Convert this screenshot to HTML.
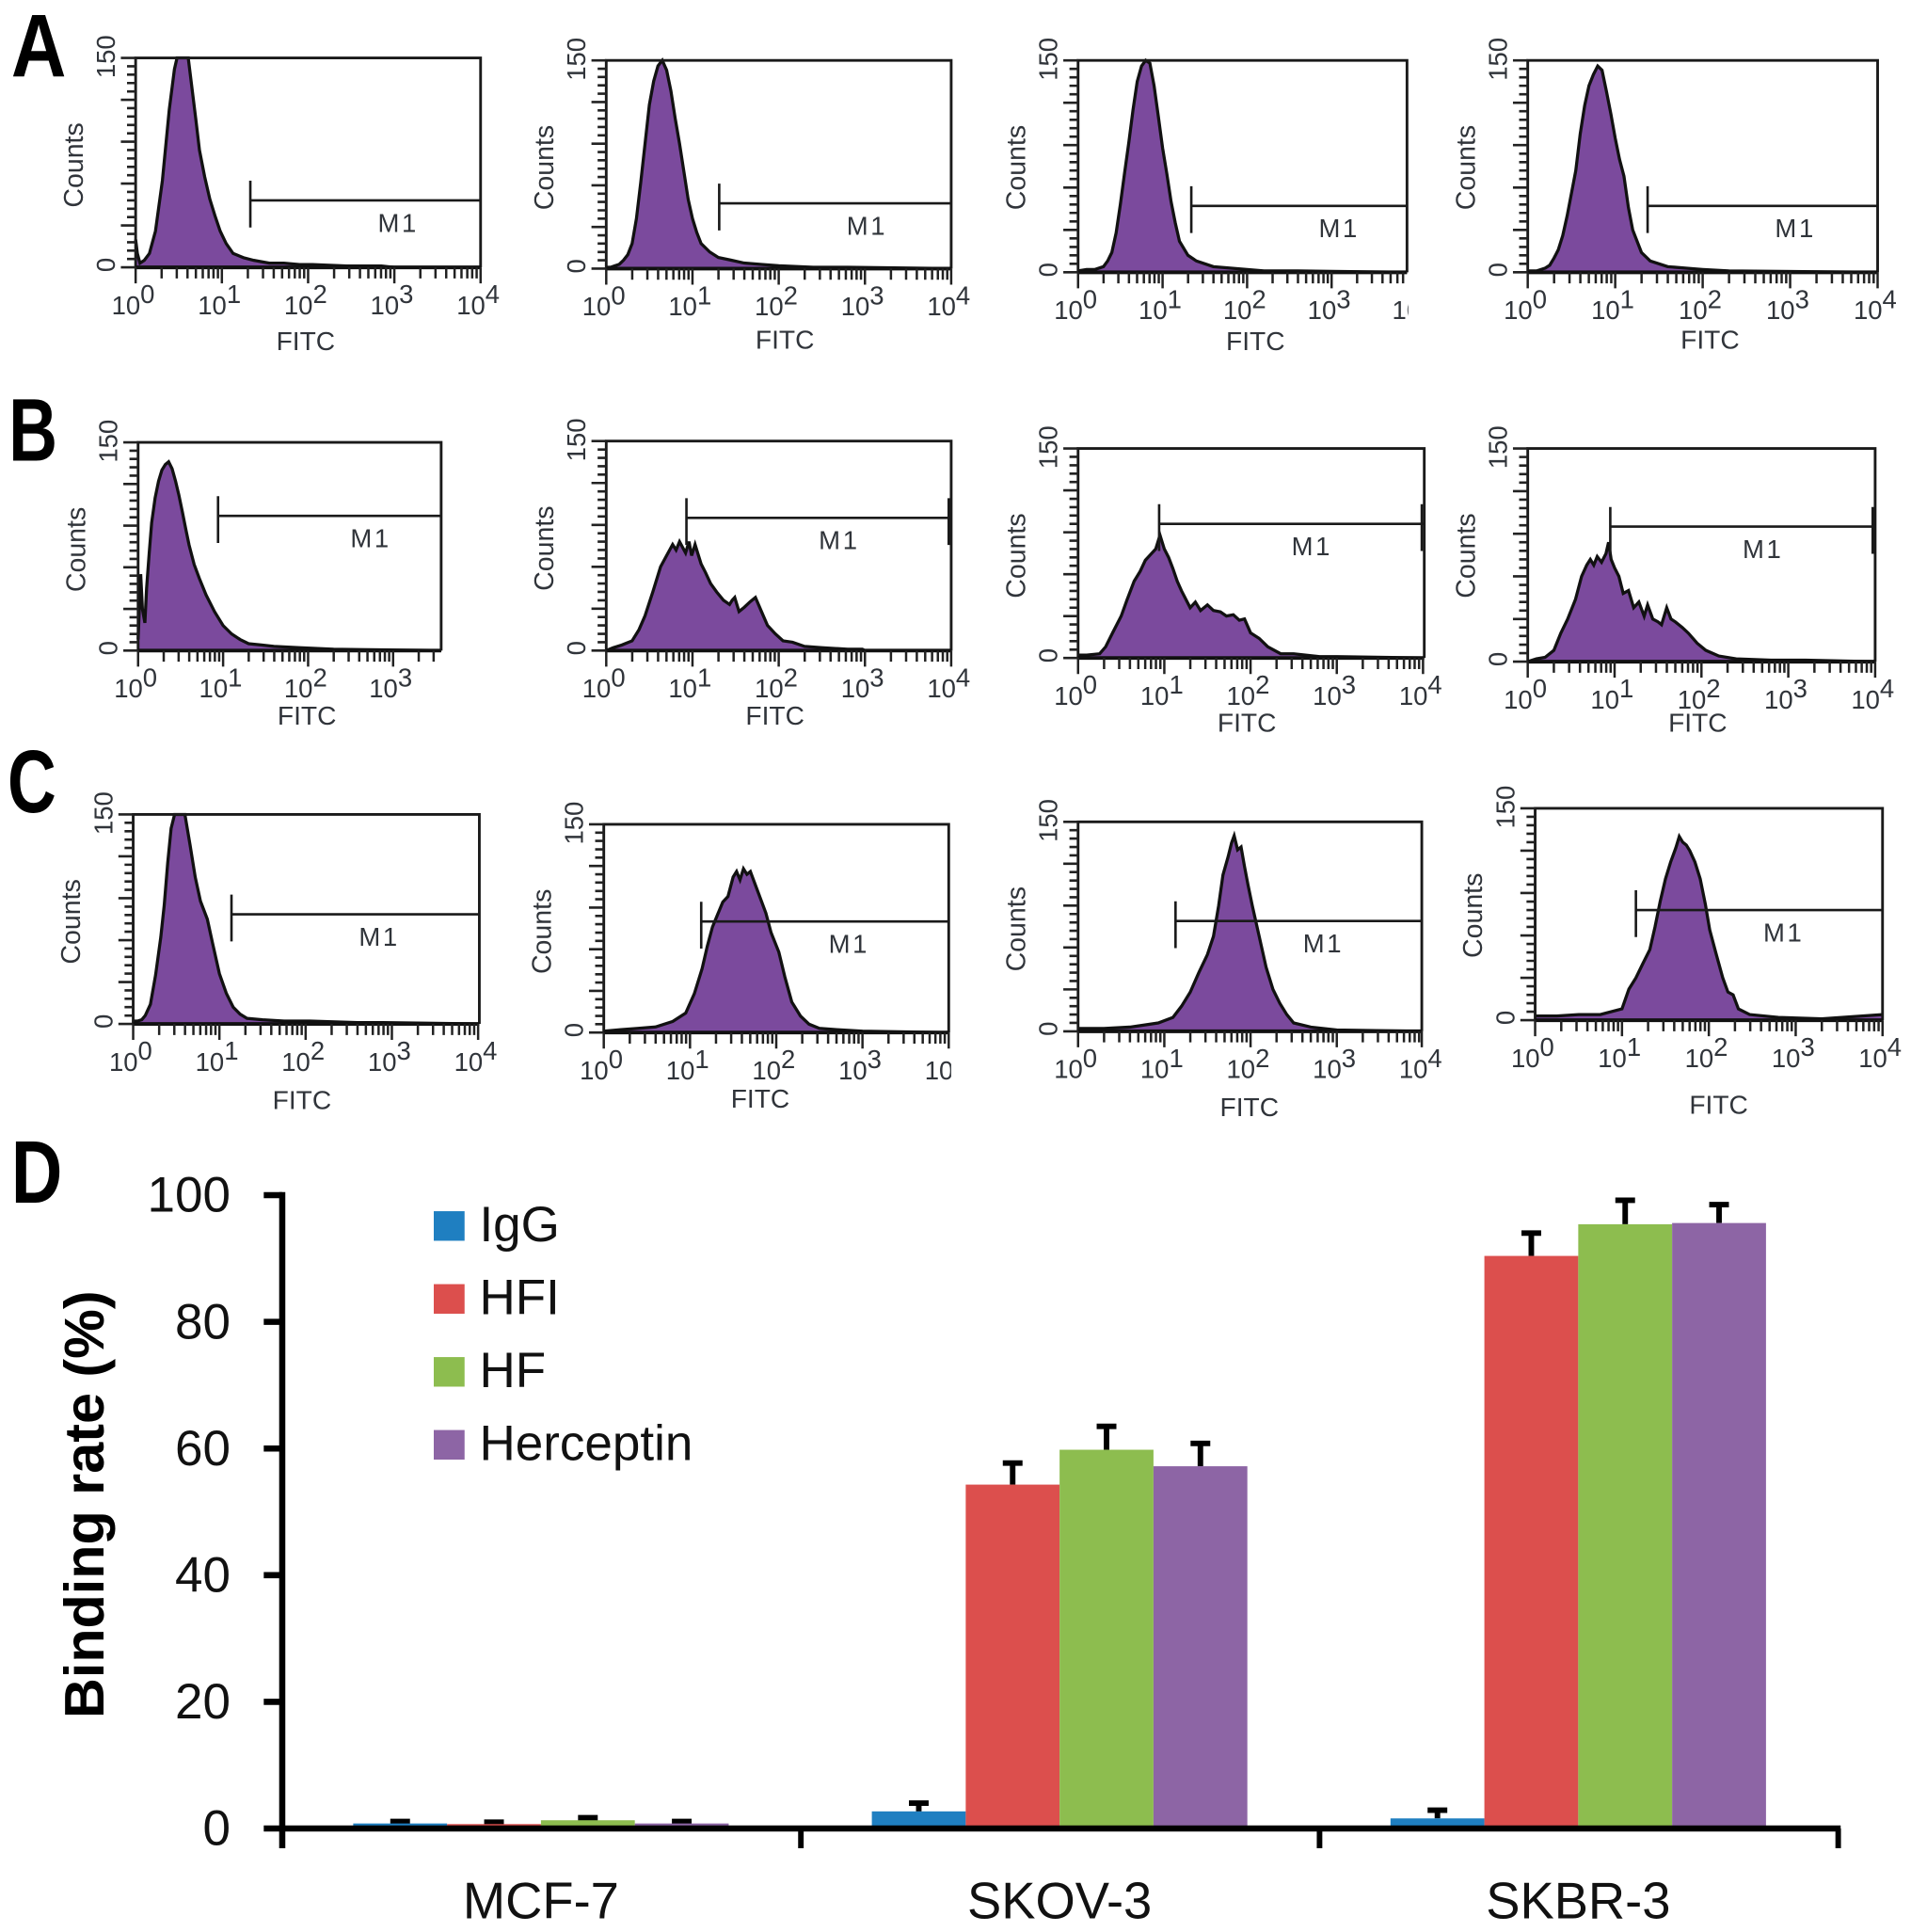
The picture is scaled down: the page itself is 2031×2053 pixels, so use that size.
<!DOCTYPE html>
<html lang="en">
<head>
<meta charset="utf-8">
<title>Flow cytometry binding histograms and binding rate chart</title>
<style>
html,body{margin:0;padding:0;background:#fff;width:2031px;height:2053px;overflow:hidden}
svg{display:block}
text{font-family:"Liberation Sans",Arial,sans-serif}
</style>
</head>
<body>
<svg id="figure" xmlns="http://www.w3.org/2000/svg" width="2031" height="2053" viewBox="0 0 1551 1568">
  <rect x="0" y="0" width="1551" height="1568" fill="#fff"/>
  <text transform="translate(9 62) scale(.86 1)" font-size="72" font-weight="700" fill="#000">A</text>
  <text transform="translate(7 374) scale(.76 1)" font-size="72" font-weight="700" fill="#000">B</text>
  <text transform="translate(6 659) scale(.76 1)" font-size="72" font-weight="700" fill="#000">C</text>
  <text transform="translate(9 976) scale(.8 1)" font-size="72" font-weight="700" fill="#000">D</text>
  <g id="histograms"></g>
  <g id="barchart"></g>
</svg>
<script>
// ---------- histogram data (log10 fluorescence in decades, counts 0-150) ----------
const a1Decades=[0,.02,.05,.1,.16,.23,.31,.39,.45,.48,.51,.56,.61,.66,.7,.74,.8,.86,.92,.98,1.05,1.13,1.25,1.37,1.55,1.72,1.9,2.05,2.45,2.85,3,4];
const a1Counts=[20,10,3,5,10,26,62,113,142,150,153,153,150,125,105,84,65,49,37,26,17,10,7,5,3,3,2,2,1,1,0,0];
const a2Decades=[0,.05,.1,.15,.2,.25,.3,.35,.4,.45,.5,.55,.6,.65,.7,.75,.8,.85,.9,.95,1,1.05,1.1,1.2,1.3,1.45,1.6,1.8,2,2.4,2.8,4];
const a2Counts=[1,1,2,3,6,10,18,36,62,90,118,135,146,150,143,128,108,90,70,50,36,26,18,12,8,6,4,3,2,1,1,0];
const a3Decades=[0,.1,.2,.3,.35,.4,.45,.5,.55,.6,.65,.7,.75,.8,.85,.9,.95,1,1.05,1.1,1.15,1.2,1.3,1.4,1.6,1.8,2,2.2,2.6,4];
const a3Counts=[1,2,2,4,8,14,28,48,70,92,115,135,146,150,148,132,110,88,70,50,35,22,12,8,4,3,2,1,1,0];
const a4Decades=[0,.1,.2,.25,.3,.35,.4,.45,.5,.55,.6,.65,.7,.75,.8,.85,.9,.95,1,1.05,1.1,1.15,1.2,1.3,1.4,1.6,1.8,2,2.3,4];
const a4Counts=[1,1,3,5,10,16,26,40,56,72,98,118,132,140,146,143,128,112,95,80,68,46,30,14,8,4,3,2,1,0];
const b1Decades=[0,.03,.05,.08,.1,.13,.16,.2,.24,.28,.32,.36,.4,.44,.48,.52,.56,.6,.66,.72,.8,.9,1,1.1,1.2,1.3,1.45,1.6,1.9,2.3,4];
const b1Counts=[8,55,30,20,45,70,92,110,122,130,134,136,131,122,112,100,88,76,62,52,40,28,18,12,8,5,4,3,2,1,0];
const b2Decades=[0,.08,.18,.3,.38,.45,.54,.63,.7,.77,.81,.85,.92,.96,.99,1.03,1.06,1.1,1.15,1.21,1.28,1.36,1.43,1.46,1.49,1.54,1.6,1.67,1.73,1.8,1.87,1.96,2.05,2.16,2.3,2.5,2.8,2.97,3,4];
const b2Counts=[0,2,4,7,15,25,42,60,68,76,72,78,70,78,68,76,70,62,56,48,42,36,33,36,38,28,31,35,38,28,18,12,7,6,3,2,1,1,0,0];
const b3Decades=[0,.1,.25,.32,.4,.5,.57,.65,.72,.78,.84,.9,.95,1,1.05,1.1,1.15,1.2,1.25,1.3,1.36,1.42,1.5,1.57,1.65,1.72,1.8,1.87,1.93,2,2.1,2.2,2.35,2.5,2.8,3,4];
const b3Counts=[2,2,3,8,18,30,42,55,62,70,74,78,88,78,72,64,55,48,42,36,40,34,38,34,33,30,31,27,28,18,14,8,3,3,1,1,0];
const b4Decades=[0,.1,.2,.3,.38,.46,.55,.62,.68,.72,.76,.8,.85,.9,.93,.96,1,1.05,1.1,1.16,1.22,1.28,1.34,1.38,1.44,1.5,1.54,1.6,1.65,1.7,1.78,1.85,1.95,2.05,2.2,2.4,2.8,3.2,4];
const b4Counts=[0,2,3,8,20,30,44,60,68,72,68,74,70,76,84,72,66,60,48,50,38,42,32,40,30,28,26,38,30,28,24,20,13,8,4,2,1,1,0];
const c1Decades=[0,.05,.1,.14,.2,.26,.32,.36,.4,.44,.48,.52,.56,.6,.66,.72,.78,.86,.92,1,1.08,1.16,1.24,1.32,1.5,1.75,2.05,2.6,2.9,4];
const c1Counts=[2,2,3,6,14,35,62,85,115,140,150,153,153,150,128,105,88,75,58,36,22,12,7,4,3,2,2,1,1,0];
const c2Decades=[0,.2,.4,.6,.8,.95,1.05,1.14,1.2,1.26,1.32,1.38,1.44,1.5,1.54,1.58,1.62,1.66,1.7,1.76,1.82,1.88,1.94,2.03,2.1,2.18,2.28,2.38,2.5,2.7,3,4];
const c2Counts=[1,2,3,4,8,14,28,46,62,76,85,94,98,112,116,110,118,114,116,106,96,86,72,58,40,22,12,6,3,2,1,0];
const c3Decades=[0,.3,.6,.93,1.1,1.2,1.3,1.4,1.5,1.57,1.63,1.68,1.74,1.78,1.81,1.85,1.89,1.93,1.97,2.02,2.1,2.18,2.26,2.34,2.42,2.5,2.7,3,4];
const c3Counts=[2,2,3,6,10,18,28,42,55,68,90,112,125,135,140,130,132,118,105,90,68,46,30,20,12,6,3,1,0];
const c4Decades=[0,.25,.5,.75,1,1.08,1.16,1.24,1.32,1.38,1.44,1.5,1.56,1.62,1.66,1.7,1.74,1.78,1.84,1.9,1.96,2.01,2.08,2.16,2.22,2.28,2.34,2.47,2.8,3.3,4];
const c4Counts=[3,3,4,4,8,22,30,40,50,66,84,100,112,122,130,126,124,120,112,100,82,64,48,30,20,18,8,4,2,1,4];
const gateDecades=[1.33,1.31,1.34,1.37,.94,.93,.94,.95,1.14,1.13,1.13,1.16];
const gateCounts=[48,47,47,47,97,95,96,95,78.5,80,79,78];
const axisDecadeLabels=["0","1","2","3","4"];
const axisCountLabels=["0","150"];

// ---------- bar chart data ----------
const barCategories=["MCF-7","SKOV-3","SKBR-3"];
const seriesNames=["IgG","HFI","HF","Herceptin"];
const igGValues=[.8,2.7,1.6];
const hfiValues=[.7,54.3,90.4];
const hfValues=[1.3,59.8,95.4];
const herceptinValues=[.8,57.2,95.6];
const igGErrors=[.3,1.3,1.3];
const hfiErrors=[.3,3.4,3.6];
const hfErrors=[.4,3.7,3.8];
const herceptinErrors=[.3,3.6,2.9];
const yTickLabels=[0,20,40,60,80,100];

// ---------- layout ----------
const seriesColors=["#1f7fc1","#dc4f4d","#8dbd4f","#8d65a5"];
const histDecades=[a1Decades,a2Decades,a3Decades,a4Decades,b1Decades,b2Decades,b3Decades,b4Decades,c1Decades,c2Decades,c3Decades,c4Decades];
const histCounts=[a1Counts,a2Counts,a3Counts,a4Counts,b1Counts,b2Counts,b3Counts,b4Counts,c1Counts,c2Counts,c3Counts,c4Counts];
const panelNames=["a1","a2","a3","a4","b1","b2","b3","b4","c1","c2","c3","c4"];
const panelFrames=[
 {l:110,r:390,t:47,b:217,dw:70,fx:248,fy:284,cut:0,rt:0,maxD:4},
 {l:492,r:772,t:49,b:218,dw:70,fx:637,fy:283,cut:0,rt:0,maxD:4},
 {l:875,r:1142,t:49,b:221,dw:68.6,fx:1019,fy:284,cut:1143,rt:0,maxD:3.9},
 {l:1240,r:1524,t:49,b:221,dw:71,fx:1388,fy:283,cut:0,rt:0,maxD:4},
 {l:112,r:358,t:359,b:528,dw:69,fx:249,fy:588,cut:0,rt:0,maxD:3.57,noLast:1,mo:124},
 {l:492,r:772,t:358,b:528,dw:70,fx:629,fy:588,cut:0,rt:1,maxD:4,mo:124},
 {l:875,r:1156,t:364,b:534,dw:70,fx:1012,fy:594,cut:0,rt:1,maxD:4,mo:124},
 {l:1240,r:1522,t:364,b:537,dw:70.5,fx:1378,fy:594,cut:0,rt:1,maxD:4,mo:124},
 {l:108,r:389,t:661,b:831,dw:70,fx:245,fy:900,cut:0,rt:0,maxD:4},
 {l:490,r:770,t:669,b:838,dw:70,fx:617,fy:899,cut:772,rt:0,maxD:4},
 {l:875,r:1154,t:667,b:837,dw:70,fx:1014,fy:906,cut:0,rt:0,maxD:4},
 {l:1246,r:1528,t:656,b:828,dw:70.5,fx:1395,fy:904,cut:0,rt:0,maxD:4}
];
const SVGNS="http://www.w3.org/2000/svg";
function make(tag,parent,attrs,txt){
  const el=document.createElementNS(SVGNS,tag);
  for(const k in attrs)el.setAttribute(k,attrs[k]);
  if(txt!==undefined)el.textContent=txt;
  parent.appendChild(el);
  return el;
}
const histRoot=document.getElementById("histograms");
const defs=make("defs",histRoot,{});
const LABEL_COLOR="#30343a";

panelFrames.forEach(function(f,i){
  const nm=panelNames[i];
  const xScale=function(d){return Math.min(f.l+d*f.dw,f.r);};
  const yScale=function(c){return f.b-c*(f.b-f.t)/150;};
  const g=make("g",histRoot,{});
  
  

  // histogram fill + outline
  const ds=histDecades[i], cs=histCounts[i];
  let line="M"+xScale(ds[0]).toFixed(1)+" "+Math.max(yScale(cs[0]),f.t).toFixed(1);
  for(let k=1;k<ds.length;k++){
    line+="L"+xScale(ds[k]).toFixed(1)+" "+Math.max(yScale(cs[k]),f.t).toFixed(1);
  }
  const area=line+"V"+f.b+"H"+xScale(ds[0]).toFixed(1)+"Z";
  const fill=make("path",g,{d:area,fill:"#7b4a9d",stroke:"none"});
  
  
  const outline=make("path",g,{d:line,fill:"none",stroke:"#111",'stroke-width':2.5,'stroke-linejoin':'miter'});
  
  

  // frame
  const frame=make("path",g,{d:"M"+f.l+" "+f.b+"V"+f.t+"H"+f.r+"V"+f.b,fill:"none",stroke:"#1a1a1a",'stroke-width':2.2});
  
  
  const base=make("line",g,{x1:f.l,x2:f.r,y1:f.b,y2:f.b,stroke:"#111",'stroke-width':3});
  
  

  // y ticks
  let yt="";
  for(let k=0;k<=25;k++){
    const y=yScale(k*6);
    yt+="M"+f.l+" "+y.toFixed(1)+"h"+(k%5===0?-12:-7);
  }
  const yTicks=make("path",g,{d:yt,stroke:"#222",'stroke-width':2,fill:"none"});
  
  

  // x ticks (log)
  let xt="";
  const logMinor=[1,2,3,4,5,6,7,8,9];
  for(let dec=0;dec<4;dec++){
    logMinor.forEach(function(m){
      const d=dec+Math.log10(m);
      if(d<=f.maxD){
        xt+="M"+xScale(d).toFixed(1)+" "+f.b+"v"+(m===1?13:9);
      }
    });
  }
  if(f.maxD>=4)xt+="M"+xScale(4).toFixed(1)+" "+f.b+"v13";
  const xTicks=make("path",g,{d:xt,stroke:"#222",'stroke-width':1.9,fill:"none"});
  
  

  // x tick labels
  let labelParent=g;
  if(f.cut){
    const cp=make("clipPath",defs,{id:"cut-"+nm});
    make("rect",cp,{x:f.l-40,y:f.b,width:f.cut-f.l+40,height:60});
    labelParent=make("g",g,{'clip-path':"url(#cut-"+nm+")"});
  }
  axisDecadeLabels.forEach(function(lab,j){
    if(f.noLast&&j===4)return;
    const t=make("text",labelParent,{x:(f.l+j*f.dw)-2,y:f.b+38,'text-anchor':'middle','font-size':21,fill:LABEL_COLOR});
    
    
    make("tspan",t,{},"10");
    make("tspan",t,{dy:-9,'font-size':21},lab);
  });

  // y tick labels
  const y0=make("text",g,{transform:"translate("+(f.l-17)+" "+(yScale(0)-2)+") rotate(-90)",'text-anchor':'middle','font-size':21,fill:LABEL_COLOR},axisCountLabels[0]);
  
  
  const y1=make("text",g,{transform:"translate("+(f.l-17)+" "+(yScale(150)-1)+") rotate(-90)",'text-anchor':'middle','font-size':21,fill:LABEL_COLOR},axisCountLabels[1]);
  
  

  // axis titles
  const yT=make("text",g,{transform:"translate("+(f.l-43)+" "+(f.t+87)+") rotate(-90)",'text-anchor':'middle','font-size':21.8,fill:LABEL_COLOR},"Counts");
  
  
  const xT=make("text",g,{x:f.fx,y:f.fy,'text-anchor':'middle','font-size':21.5,fill:LABEL_COLOR},"FITC");
  
  

  // M1 gate
  const gx=xScale(gateDecades[i]), gy=yScale(gateCounts[i]);
  let gateD="M"+gx.toFixed(1)+" "+(gy-16)+"V"+(gy+22)+"M"+gx.toFixed(1)+" "+gy.toFixed(1)+"H"+f.r;
  if(f.rt)gateD+="M"+(f.r-2)+" "+(gy-16)+"V"+(gy+22);
  const gate=make("path",g,{d:gateD,stroke:"#1a1a1a",'stroke-width':2,fill:"none"});
  
  
  const m1=make("text",g,{x:gx+(f.mo||120),y:gy+25.5,'text-anchor':'middle','font-size':21,'letter-spacing':'2',fill:LABEL_COLOR},"M1");
  
  
});

// ---------- bar chart ----------
const chart=document.getElementById("barchart");
const plotL=229, plotR=1492, plotB=1484, plotT=970, barW=76.2;
const valueY=function(v){return plotB-v*(plotB-plotT)/100;};
const categoryX=function(i){return plotL+(i+.5)*(plotR-plotL)/barCategories.length;};
const seriesValues=[igGValues,hfiValues,hfValues,herceptinValues];
const seriesErrors=[igGErrors,hfiErrors,hfErrors,herceptinErrors];

seriesValues.forEach(function(vals,s){
  vals.forEach(function(v,c){
    const x=categoryX(c)+(s-2)*barW-.5;
    const cx=x+barW/2;
    const top=valueY(v), errTop=valueY(v+seriesErrors[s][c]);
    const stem=make("path",chart,{d:"M"+cx.toFixed(1)+" "+top.toFixed(1)+"V"+errTop.toFixed(1)+"M"+(cx-8).toFixed(1)+" "+errTop.toFixed(1)+"H"+(cx+8).toFixed(1),stroke:"#000",'stroke-width':4.5,fill:"none"});
    
    
    const bar=make("rect",chart,{x:x.toFixed(1),y:top.toFixed(1),width:barW,height:(plotB-top).toFixed(1),fill:seriesColors[s]});
    
    
  });
});

const yAxis=make("path",chart,{d:"M"+plotL+" "+(plotT-2.5)+"V"+(plotB+16),stroke:"#000",'stroke-width':5,fill:"none"});


const xAxis=make("path",chart,{d:"M"+plotL+" "+plotB+"H"+(plotR+2),stroke:"#000",'stroke-width':5,fill:"none"});



yTickLabels.forEach(function(v){
  const y=valueY(v);
  const tick=make("line",chart,{x1:plotL-15,x2:plotL,y1:y,y2:y,stroke:"#000",'stroke-width':5});
  
  
  const lab=make("text",chart,{x:187,y:y+13.5,'text-anchor':'end','font-size':40.5,fill:"#111"},String(v));
  
  
});
for(let i=1;i<=barCategories.length;i++){
  const x=plotL+i*(plotR-plotL)/barCategories.length;
  const tick=make("line",chart,{x1:x,x2:x,y1:plotB,y2:plotB+16,stroke:"#000",'stroke-width':4.5});
  
  
}
barCategories.forEach(function(c,i){
  const lab=make("text",chart,{x:categoryX(i)-.5,y:1557,'text-anchor':'middle','font-size':41.5,fill:"#111"},c);
  
  
});
const yTitle=make("text",chart,{transform:"translate(84 1221) rotate(-90)",'text-anchor':'middle','font-size':45.3,'font-weight':700,fill:"#000"},"Binding rate (%)");



seriesNames.forEach(function(n,i){
  const yc=995+i*59.2;
  const sw=make("rect",chart,{x:352,y:yc-12,width:25,height:24,fill:seriesColors[i]});
  
  
  const t=make("text",chart,{x:389,y:yc+12.5,'font-size':40.5,fill:"#111"},n);
  
  
});
</script>
</body>
</html>
